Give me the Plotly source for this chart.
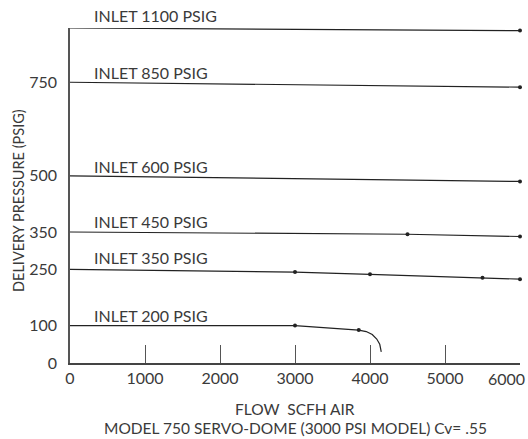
import plotly.graph_objects as go

# Series data (flow SCFH, delivery pressure PSIG)
inlet_labels = ["INLET 1100 PSIG", "INLET 850 PSIG", "INLET 600 PSIG",
                "INLET 450 PSIG", "INLET 350 PSIG", "INLET 200 PSIG"]

flow_1100 = [0, 6000]
psig_1100 = [895, 888]

flow_850 = [0, 6000]
psig_850 = [750, 737]

flow_600 = [0, 6000]
psig_600 = [500, 485]

flow_450 = [0, 4500, 6000]
psig_450 = [350, 344, 338]

flow_350 = [0, 3000, 4000, 5500, 6000]
psig_350 = [250, 243, 237, 228, 224]

flow_200 = [0, 3000, 3850, 3950, 4030, 4090, 4130, 4150]
psig_200 = [100, 100, 88, 84, 76, 64, 50, 30]

# marker points shown as dots
mk_1100 = ([6000], [888])
mk_850 = ([6000], [737])
mk_600 = ([6000], [485])
mk_450 = ([4500, 6000], [344, 338])
mk_350 = ([3000, 4000, 5500, 6000], [243, 237, 228, 224])
mk_200 = ([3000, 3850], [100, 88])

label_y = [928, 777, 524, 377, 281, 128]
label_x = 290

x_ticks = [0, 1000, 2000, 3000, 4000, 5000, 6000]
x_tick_text = ["0", "1000", "2000", "3000", "4000", "5000", ""]
x_last_label = "6000"
y_ticks = [0, 100, 250, 350, 500, 750]
Y_MAX = 895

LINE = "#222222"
TXT = "#3a3a3a"
FONT = "Lato"

fig = go.Figure()
series = [(flow_1100, psig_1100, mk_1100), (flow_850, psig_850, mk_850),
          (flow_600, psig_600, mk_600), (flow_450, psig_450, mk_450),
          (flow_350, psig_350, mk_350), (flow_200, psig_200, mk_200)]
for fx, fy, mk in series:
    fig.add_trace(go.Scatter(x=fx, y=fy, mode="lines",
                             line=dict(color=LINE, width=1.2),
                             cliponaxis=False, showlegend=False, hoverinfo="skip"))
    fig.add_trace(go.Scatter(x=mk[0], y=mk[1], mode="markers",
                             marker=dict(color=LINE, size=4),
                             cliponaxis=False, showlegend=False, hoverinfo="skip"))

for txt, ly in zip(inlet_labels, label_y):
    fig.add_annotation(x=label_x, y=ly / Y_MAX, yref="paper", text=txt, showarrow=False,
                       xanchor="left", yanchor="middle",
                       font=dict(family=FONT, size=16, color=TXT))

# last x tick label, kept inside the window as in the reference
fig.add_annotation(x=x_ticks[-1], y=0, yref="paper", text=x_last_label, showarrow=False,
                   xanchor="right", yanchor="top", xshift=7, yshift=-4,
                   font=dict(family=FONT, size=16, color=TXT))

fig.add_annotation(x=0.5, y=-0.137, xref="paper", yref="paper",
                   text="FLOW  SCFH AIR", showarrow=False,
                   xanchor="center", yanchor="middle",
                   font=dict(family=FONT, size=15.5, color=TXT))
fig.add_annotation(x=0.5, y=-0.194, xref="paper", yref="paper",
                   text="MODEL 750 SERVO-DOME (3000 PSI MODEL) Cv= .55", showarrow=False,
                   xanchor="center", yanchor="middle",
                   font=dict(family=FONT, size=15.5, color=TXT))
fig.add_annotation(x=-0.113, y=0.484, xref="paper", yref="paper",
                   text="DELIVERY PRESSURE (PSIG)", showarrow=False, textangle=-90,
                   xanchor="center", yanchor="middle",
                   font=dict(family=FONT, size=14.5, color=TXT))

fig.update_xaxes(range=[0, 6000], tickvals=x_ticks, ticktext=x_tick_text,
                 showgrid=False, zeroline=False, showline=True, linecolor="#444444",
                 linewidth=1.5, ticks="inside", ticklen=18, tickcolor="#555555",
                 tickwidth=1, tickfont=dict(family=FONT, size=16, color=TXT))
fig.update_yaxes(range=[0, Y_MAX], tickvals=y_ticks, ticktext=[str(v) for v in y_ticks],
                 showgrid=False, zeroline=False, showline=True, linecolor="#555555",
                 linewidth=1.5, ticks="", ticklabelstandoff=8,
                 tickfont=dict(family=FONT, size=16, color=TXT))

fig.update_layout(width=528, height=439, margin=dict(l=70, r=8, t=28, b=76),
                  paper_bgcolor="white", plot_bgcolor="white")

fig.write_html("out.html", config={"displayModeBar": False},
               post_script="document.body.style.margin='0';document.body.style.overflow='hidden';")
